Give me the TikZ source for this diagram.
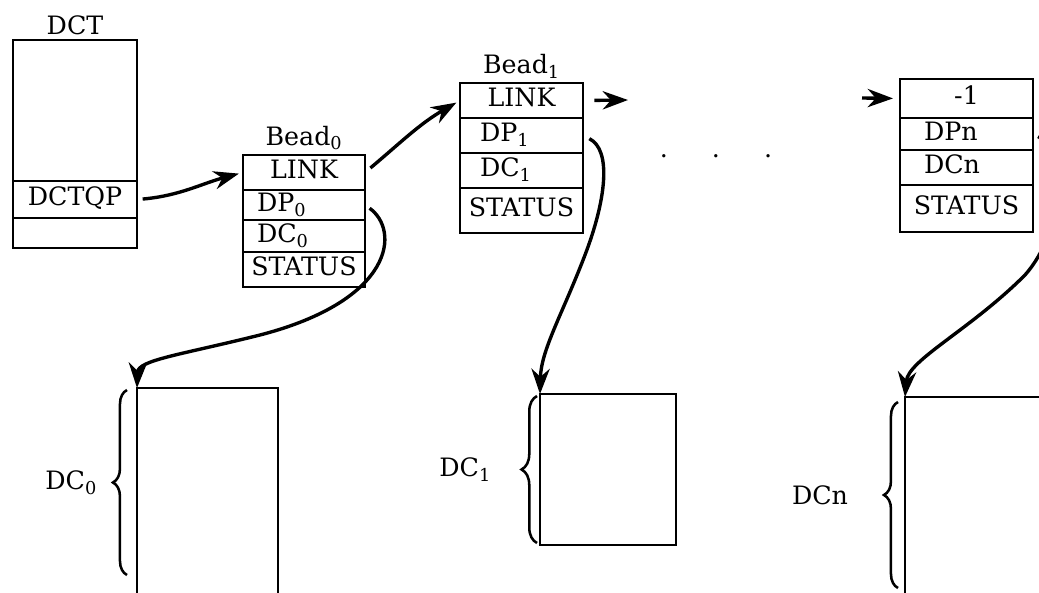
\documentclass[tikz,border=0pt]{standalone}
\usepackage{fontspec}
\setmainfont{DejaVu Serif}
\usetikzlibrary{arrows.meta,positioning,decorations.pathreplacing}

\tikzset{
  field/.style={draw,line width=1.9pt,outer sep=0pt,inner ysep=0pt,inner xsep=0.15cm,
    text height=13pt,text depth=4pt,align=center},
  arr/.style={line width=2.4pt,-{Stealth[length=18pt,width=13pt]}},
  box/.style={line width=2pt},
  brc/.style={line width=1.8pt,decorate,decoration={brace,amplitude=#1}},
}

\begin{document}
\begin{tikzpicture}[x=0.025cm,y=-0.025cm,font=\fontsize{18}{22}\selectfont]
    \useasboundingbox (0,0) rectangle (1039,592);
    \clip (0,0) rectangle (1039,592);

    % DCT
    \node[field,anchor=north west,text width=2.8cm,minimum height=3.525cm] (dct) at (13,40) {};
    \node[field,below=0pt of dct,text width=2.8cm,minimum height=0.925cm] (dctqp) {DCTQP};
    \node[field,below=0pt of dctqp,text width=2.8cm,minimum height=0.75cm] (dctend) {};
    \node[above=0pt of dct] (dctname) {DCT};

    % bead 0
    \node[field,anchor=north west,text width=2.75cm,minimum height=0.875cm] (b0link) at (243,155) {LINK};
    \node[field,below=0pt of b0link,inner xsep=0.35cm,text width=2.35cm,align=left,minimum height=0.75cm] (b0dp) {DP\textsubscript{0}};
    \node[field,below=0pt of b0dp,inner xsep=0.35cm,text width=2.35cm,align=left,minimum height=0.8cm] (b0dc) {DC\textsubscript{0}};
    \node[field,below=0pt of b0dc,inner xsep=0.05cm,text width=2.95cm,minimum height=0.875cm] (b0st) {STATUS};
    \node[above=0pt of b0link] (b0name) {Bead\textsubscript{0}};

    % bead 1
    \node[field,anchor=north west,text width=2.775cm,minimum height=0.875cm] (b1link) at (460,83) {LINK};
    \node[field,below=0pt of b1link,inner xsep=0.5cm,text width=2.075cm,align=left,minimum height=0.875cm] (b1dp) {DP\textsubscript{1}};
    \node[field,below=0pt of b1dp,inner xsep=0.5cm,text width=2.075cm,align=left,minimum height=0.875cm] (b1dc) {DC\textsubscript{1}};
    \node[field,below=0pt of b1dc,inner xsep=0.05cm,text width=2.975cm,minimum height=1.125cm] (b1st) {STATUS};
    \node[above=0pt of b1link] (b1name) {Bead\textsubscript{1}};

    % bead n
    \node[field,anchor=north west,text width=3.025cm,minimum height=0.975cm] (bnval) at (900,79) {-1};
    \node[field,below=0pt of bnval,inner xsep=0.6cm,text width=2.125cm,align=left,minimum height=0.8cm] (bndp) {DPn};
    \node[field,below=0pt of bndp,inner xsep=0.6cm,text width=2.125cm,align=left,minimum height=0.875cm] (bndc) {DCn};
    \node[field,below=0pt of bndc,inner xsep=0.05cm,text width=3.225cm,minimum height=1.175cm] (bnst) {STATUS};

    \coordinate (b1next) at (628,100);
    \coordinate (bnprev) at (862,98);
    \node (dots) at (716,156) {.\hspace{1.1cm}.\hspace{1.1cm}.};

    % data areas
    \coordinate (dc0) at (137,388);
    \draw[box] (137,600) -- (dc0) -- (278,388) -- (278,600);
    \node[draw,line width=2pt,outer sep=0pt,anchor=north west,minimum width=3.4cm,minimum height=3.775cm] (dc1) at (540,394) {};
    \coordinate (dcn) at (905,397);
    \draw[box] (905,600) -- (dcn) -- (1050,397);

    \draw[brc=10pt] (127,575) -- (127,390) node[midway,left=0.6cm] (dc0lbl) {DC\textsubscript{0}};
    \draw[brc=11pt] (537,543) -- (537,396) node[midway,left=1.0cm] (dc1lbl) {DC\textsubscript{1}};
    \draw[brc=10pt] (898,588) -- (898,402) node[midway,left=1.1cm] (dcnlbl) {DCn};

    % links
    \draw[arr,shorten <=4pt,shorten >=3pt] (dctqp.east) to[out=5,in=195] (b0link.west);
    \draw[arr,shorten <=5pt,shorten >=3pt] (b0link.east) to[out=40,in=210] (b1link.west);
    \draw[arr,shorten <=8pt] (b1link.east) -- (b1next);
    \draw[arr,shorten >=5pt] (bnprev) -- (bnval.west);

    % pointers to data
    \draw[arr,shorten <=4pt] (b0dp.east) .. controls (400,230) and (395,300) .. (260,335)
        .. controls (180,355) and (138,360) .. (dc0);
    \draw[arr,shorten <=5pt] (b1dp.east) .. controls (612,150) and (606,200) .. (585,255)
        .. controls (562,315) and (541,350) .. (dc1.north west);
    \draw[arr,shorten <=4pt] (bndp.east) .. controls (1065,150) and (1065,230) .. (1025,275)
        .. controls (970,330) and (908,360) .. (dcn);
\end{tikzpicture}
\end{document}
